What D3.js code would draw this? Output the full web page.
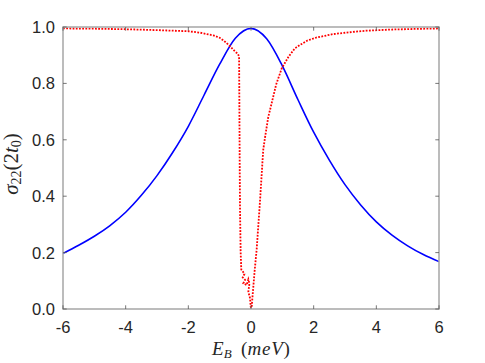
<!DOCTYPE html>
<html>
<head>
<meta charset="utf-8">
<script src="https://cdn.jsdelivr.net/npm/d3@7.9.0/dist/d3.min.js"></script>
<style>
  body { margin: 0; background: #fff; }
  svg { display: block; }
</style>
</head>
<body>
<svg id="chart" width="485" height="363"></svg>
<script>
// Blue curve (solid)
const blueX = [-6, -5.5, -5, -4.5, -4, -3.5, -3, -2.5, -2, -1.5, -1, -0.5, 0, 0.5, 1, 1.5, 2, 2.5, 3, 3.5, 4, 4.5, 5, 5.5, 6];
const blueY = [0.197, 0.226, 0.258, 0.296, 0.343, 0.403, 0.473, 0.555, 0.648, 0.758, 0.868, 0.96, 0.995, 0.958, 0.862, 0.742, 0.627, 0.528, 0.441, 0.369, 0.309, 0.262, 0.224, 0.193, 0.168];

// Red curve (dotted)
const redX = [-6, -5, -4, -3, -2.27, -2, -1.63, -1.2, -1, -0.83, -0.67, -0.5, -0.42, -0.38, -0.37, -0.36, -0.35, -0.33, -0.31,
  -0.277, -0.21, -0.265, -0.19, -0.245, -0.137, -0.085, -0.05, -0.085, -0.03, -0.01, 0.02,
  0.06, 0.12, 0.18, 0.29, 0.39, 0.45, 0.55, 0.66, 0.8, 0.98, 1.2, 1.4, 1.56, 1.8, 2.1, 2.63, 3.2, 3.69, 4.5, 5.2, 6];
const redY = [0.995, 0.994, 0.992, 0.989, 0.986, 0.985, 0.98, 0.97, 0.962, 0.948, 0.932, 0.912, 0.905, 0.895, 0.70, 0.50, 0.35, 0.20, 0.14,
  0.136, 0.124, 0.112, 0.103, 0.091, 0.085, 0.105, 0.091, 0.061, 0.038, 0.008, 0.004,
  0.06, 0.14, 0.21, 0.387, 0.564, 0.61, 0.68, 0.73, 0.795, 0.853, 0.895, 0.924, 0.936, 0.952, 0.963, 0.975, 0.982, 0.987, 0.991, 0.993, 0.995];

const xTicks = [-6, -4, -2, 0, 2, 4, 6];
const yTicks = [0, 0.2, 0.4, 0.6, 0.8, 1.0];

const svg = d3.select('#chart');
const margin = { left: 63, right: 46, top: 27, bottom: 54 };
const W = 485, H = 363;

const x = d3.scaleLinear().domain([-6, 6]).range([margin.left, W - margin.right]);
const y = d3.scaleLinear().domain([0, 1]).range([H - margin.bottom, margin.top]);

const axisColor = '#a6a6a6';
const tickColor = '#555';
const textColor = '#262626';
const font = '"Liberation Sans", Arial, Helvetica, sans-serif';

// curves
const blueData = blueX.map((d, i) => [d, blueY[i]]);
const redData = redX.map((d, i) => [d, redY[i]]);

svg.append('path')
  .attr('d', d3.line().x(d => x(d[0])).y(d => y(d[1])).curve(d3.curveMonotoneX)(blueData))
  .attr('fill', 'none')
  .attr('stroke', '#0000ff')
  .attr('stroke-width', 1.6);

svg.append('path')
  .attr('d', d3.line().x(d => x(d[0])).y(d => y(d[1]))(redData))
  .attr('fill', 'none')
  .attr('stroke', '#ff0000')
  .attr('stroke-width', 1.8)
  .attr('stroke-dasharray', '1.8,1.4');

// box
const x0 = x(-6), x1 = x(6), y0 = y(0), y1 = y(1);
svg.append('rect')
  .attr('x', x0).attr('y', y1)
  .attr('width', x1 - x0).attr('height', y0 - y1)
  .attr('fill', 'none')
  .attr('stroke', axisColor)
  .attr('stroke-width', 1.5);

// ticks (inward, on all four sides)
const tl = 3.7;
xTicks.forEach(t => {
  svg.append('line').attr('x1', x(t)).attr('x2', x(t)).attr('y1', y0).attr('y2', y0 - tl)
    .attr('stroke', tickColor).attr('stroke-width', 0.8);
  svg.append('line').attr('x1', x(t)).attr('x2', x(t)).attr('y1', y1).attr('y2', y1 + tl)
    .attr('stroke', tickColor).attr('stroke-width', 0.8);
  svg.append('text').attr('x', x(t)).attr('y', y0 + 24)
    .attr('text-anchor', 'middle')
    .attr('font-family', font).attr('font-size', 16.5).attr('fill', textColor)
    .text(t);
});
yTicks.forEach(t => {
  svg.append('line').attr('x1', x0).attr('x2', x0 + tl).attr('y1', y(t)).attr('y2', y(t))
    .attr('stroke', tickColor).attr('stroke-width', 0.8);
  svg.append('line').attr('x1', x1).attr('x2', x1 - tl).attr('y1', y(t)).attr('y2', y(t))
    .attr('stroke', tickColor).attr('stroke-width', 0.8);
  svg.append('text').attr('x', x0 - 8).attr('y', y(t) + 6)
    .attr('text-anchor', 'end')
    .attr('font-family', font).attr('font-size', 16.5).attr('fill', textColor)
    .text(d3.format('.1f')(t));
});

// axis labels (LaTeX-like)
const serif = '"Liberation Serif", "Times New Roman", serif';
const xl = svg.append('text')
  .attr('x', (x0 + x1) / 2).attr('y', 355)
  .attr('text-anchor', 'middle')
  .attr('font-family', serif).attr('font-size', 19).attr('fill', textColor);
xl.append('tspan').attr('font-style', 'italic').text('E');
xl.append('tspan').attr('font-style', 'italic').attr('font-size', 13).attr('dy', 3).text('B');
xl.append('tspan').attr('dy', -3).attr('xml:space', 'preserve').text('  (');
xl.append('tspan').attr('font-style', 'italic').attr('letter-spacing', 0.8).text('meV');
xl.append('tspan').text(')');

const yl = svg.append('text')
  .attr('transform', `translate(18,${(y0 + y1) / 2 - 4}) rotate(-90)`)
  .attr('text-anchor', 'middle')
  .attr('font-family', serif).attr('font-size', 21).attr('fill', textColor);
yl.append('tspan').attr('font-style', 'italic').text('σ');
yl.append('tspan').attr('font-size', 14).attr('dy', 3).text('22');
yl.append('tspan').attr('dy', -3).text('(2');
yl.append('tspan').attr('font-style', 'italic').text('t');
yl.append('tspan').attr('font-size', 14).attr('dy', 3).text('0');
yl.append('tspan').attr('dy', -3).text(')');
</script>
</body>
</html>
